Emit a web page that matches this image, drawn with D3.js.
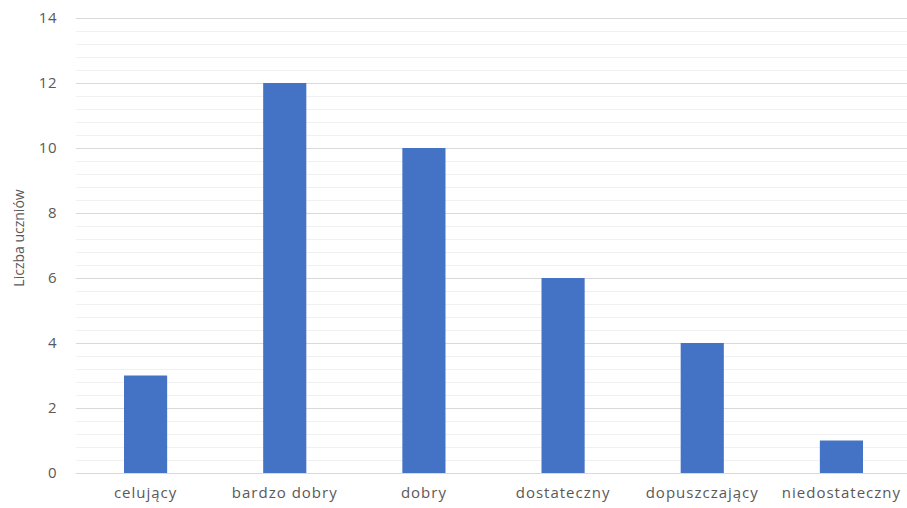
<!DOCTYPE html>
<html>
<head>
<meta charset="utf-8">
<script src="https://cdn.jsdelivr.net/npm/d3@7"></script>
<style>
  html, body { margin: 0; padding: 0; background: #fff; }
  svg { display: block; font-family: "Open Sans", "Noto Sans", sans-serif; }
</style>
</head>
<body>
<svg id="chart" width="907" height="508"></svg>
<script>
// Oceny końcowe — liczba uczniów
const categories = ["celujący", "bardzo dobry", "dobry", "dostateczny", "dopuszczający", "niedostateczny"];
const values = [3, 12, 10, 6, 4, 1];
const majorTicks = [0, 2, 4, 6, 8, 10, 12, 14];
const minorTicks = d3.range(0, 14.0001, 0.4);
const yTitle = "Liczba uczniów";

const svg = d3.select("#chart");
const margin = { left: 76, right: -4, top: 18, bottom: 35 };
const W = 907, H = 508;

const x = d3.scaleBand()
  .domain(categories)
  .range([margin.left, W - margin.right])
  .paddingInner(0.69)
  .paddingOuter(0.345);

const y = d3.scaleLinear()
  .domain([0, 14])
  .range([H - margin.bottom, margin.top]);

// minor gridlines
svg.append("g")
  .selectAll("line")
  .data(minorTicks.filter(t => Math.abs(t / 2 - Math.round(t / 2)) > 1e-6))
  .join("line")
  .attr("x1", margin.left)
  .attr("x2", W)
  .attr("y1", d => Math.round(y(d)) + 0.5)
  .attr("y2", d => Math.round(y(d)) + 0.5)
  .attr("stroke", "#f0f0f0")
  .attr("stroke-width", 1);

// major gridlines
svg.append("g")
  .selectAll("line")
  .data(majorTicks)
  .join("line")
  .attr("x1", margin.left)
  .attr("x2", W)
  .attr("y1", d => Math.round(y(d)) + 0.5)
  .attr("y2", d => Math.round(y(d)) + 0.5)
  .attr("stroke", "#d9d9d9")
  .attr("stroke-width", 1);

// bars
svg.append("g")
  .selectAll("rect")
  .data(values)
  .join("rect")
  .attr("x", (d, i) => x(categories[i]))
  .attr("width", x.bandwidth())
  .attr("y", d => y(d))
  .attr("height", d => y(0) - y(d))
  .attr("fill", "#4472C4");

// y axis labels
const yAxis = d3.axisLeft(y).tickValues(majorTicks).tickSize(0).tickPadding(0);
const gy = svg.append("g")
  .attr("transform", `translate(${margin.left - 19},0)`)
  .call(yAxis);
gy.select(".domain").remove();
gy.selectAll("text")
  .attr("fill", "#595959")
  .style("font-size", "15px")
  .style("letter-spacing", "0.5px")
  .style("font-family", "\"Open Sans\", sans-serif");

// x axis labels
const xAxis = d3.axisBottom(x).tickSize(0).tickPadding(0);
const gx = svg.append("g")
  .attr("transform", `translate(0,${H - margin.bottom + 14})`)
  .call(xAxis);
gx.select(".domain").remove();
gx.selectAll("text")
  .attr("fill", "#595959")
  .style("font-size", "15px")
  .style("letter-spacing", "1px")
  .style("font-family", "\"Open Sans\", sans-serif");

// y axis title
svg.append("text")
  .attr("transform", `translate(24,238) rotate(-90)`)
  .attr("text-anchor", "middle")
  .attr("fill", "#595959")
  .style("font-size", "14px")
  .text(yTitle);
</script>
</body>
</html>
